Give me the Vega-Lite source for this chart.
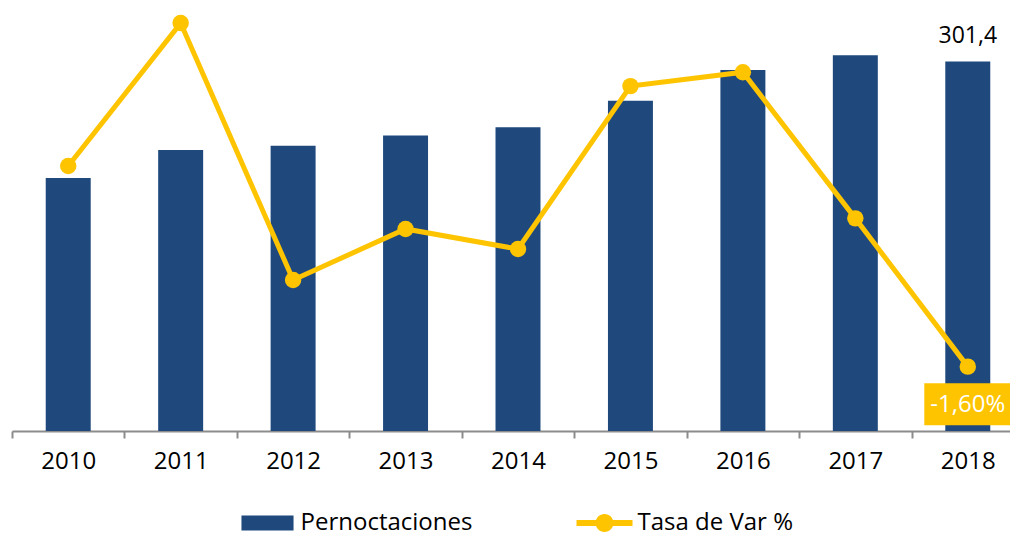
{
  "$schema": "https://vega.github.io/schema/vega-lite/v6.json",
  "width": 998,
  "height": 431,
  "autosize": {"type": "none"},
  "padding": {"left": 12, "top": 0, "right": 0, "bottom": 106},
  "background": "white",
  "config": {
    "view": {"stroke": null},
    "font": "Open Sans",
    "locale": {"number": {"decimal": ",", "thousands": ".", "grouping": [3], "currency": ["", " €"], "minus": "-"}},
    "axisX": {
      "domainColor": "#8c8c8c", "domainWidth": 2,
      "tickColor": "#8c8c8c", "tickWidth": 2, "tickSize": 7, "tickBand": "extent",
      "labelFont": "Open Sans", "labelFontSize": 24, "labelColor": "#000000", "labelPadding": 11,
      "labelAngle": 0, "grid": false
    },
    "legend": {"labelFont": "Open Sans", "labelFontSize": 24, "labelColor": "#000000", "labelLimit": 400}
  },
  "data": {"values": [
    {"Año": "2010", "Pernoctaciones": 206.4, "Tasa": 0.0579},
    {"Año": "2011", "Pernoctaciones": 229.2, "Tasa": 0.1105},
    {"Año": "2012", "Pernoctaciones": 232.7, "Tasa": 0.0159},
    {"Año": "2013", "Pernoctaciones": 240.9, "Tasa": 0.0347},
    {"Año": "2014", "Pernoctaciones": 247.7, "Tasa": 0.0273},
    {"Año": "2015", "Pernoctaciones": 269.4, "Tasa": 0.0873},
    {"Año": "2016", "Pernoctaciones": 294.5, "Tasa": 0.0924},
    {"Año": "2017", "Pernoctaciones": 306.4, "Tasa": 0.0386},
    {"Año": "2018", "Pernoctaciones": 301.4, "Tasa": -0.016}
  ]},
  "encoding": {
    "x": {"field": "Año", "type": "nominal", "sort": null,
      "scale": {"type": "band", "range": [0, 1012], "paddingInner": 0, "paddingOuter": 0},
      "axis": {"title": null}}
  },
  "layer": [
    {
      "mark": {"type": "bar", "width": {"band": 0.4}},
      "encoding": {
        "y": {"field": "Pernoctaciones", "type": "quantitative", "scale": {"domain": [0, 351.5], "nice": false, "zero": true}, "axis": null},
        "fill": {"datum": "Pernoctaciones", "type": "nominal",
          "scale": {"domain": ["Pernoctaciones", "Tasa de Var %"], "range": ["#1F497D", "#FFC400"]},
          "legend": {
            "title": null, "orient": "none", "direction": "horizontal",
            "legendX": 227.5, "legendY": 495,
            "symbolSize": 3136, "symbolStrokeWidth": 0, "labelOffset": 5, "columnPadding": 104,
            "encode": {"symbols": {"update": {"shape": {"signal": "datum.value === 'Pernoctaciones' ? 'M-0.93,-0.27H0.93V0.27H-0.93Z' : 'M-1,-0.107H1V0.107H-1Z M0.32,0A0.32,0.32 0 1,1 -0.32,0A0.32,0.32 0 1,1 0.32,0Z'"}, "strokeWidth": {"value": 0}}}}
          }}
      }
    },
    {
      "mark": {"type": "line", "color": "#FFC400", "strokeWidth": 5},
      "encoding": {
        "y": {"field": "Tasa", "type": "quantitative", "scale": {"domain": [-0.0397, 0.119], "nice": false, "zero": false}, "axis": null}
      }
    },
    {
      "mark": {"type": "point", "filled": true, "opacity": 1, "size": 270, "strokeWidth": 0},
      "encoding": {
        "y": {"field": "Tasa", "type": "quantitative", "scale": {"domain": [-0.0397, 0.119], "nice": false, "zero": false}, "axis": null},
        "fill": {"datum": "Tasa de Var %", "type": "nominal"}
      }
    },
    {
      "transform": [{"filter": "datum['Año'] === '2018'"}],
      "mark": {"type": "point", "filled": true, "opacity": 1, "size": 7569, "strokeWidth": 0, "color": "#FFC400",
        "shape": "M-1,-0.483H1V0.483H-1Z", "yOffset": 37.5},
      "encoding": {
        "y": {"field": "Tasa", "type": "quantitative", "scale": {"domain": [-0.0397, 0.119], "nice": false, "zero": false}, "axis": null}
      }
    },
    {
      "transform": [{"filter": "datum['Año'] === '2018'"}],
      "mark": {"type": "text", "color": "#FFFFFF", "fontSize": 24, "font": "Open Sans", "baseline": "middle", "align": "center", "yOffset": 38},
      "encoding": {
        "y": {"field": "Tasa", "type": "quantitative", "scale": {"domain": [-0.0397, 0.119], "nice": false, "zero": false}, "axis": null},
        "text": {"field": "Tasa", "type": "quantitative", "format": ".2%"}
      }
    },
    {
      "transform": [{"filter": "datum['Año'] === '2018'"}],
      "mark": {"type": "text", "color": "#000000", "fontSize": 23, "font": "Open Sans", "baseline": "alphabetic", "align": "center", "dy": -18},
      "encoding": {
        "y": {"field": "Pernoctaciones", "type": "quantitative", "scale": {"domain": [0, 351.5], "nice": false, "zero": true}, "axis": null},
        "text": {"field": "Pernoctaciones", "type": "quantitative", "format": ".1f"}
      }
    }
  ],
  "resolve": {"scale": {"y": "independent"}}
}
